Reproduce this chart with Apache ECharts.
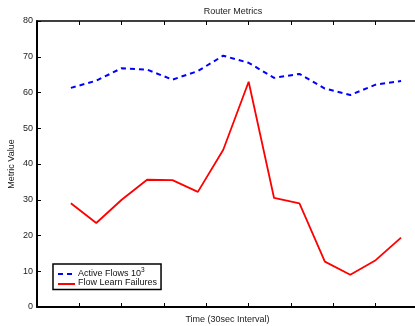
<!DOCTYPE html>
<html>
<head>
<meta charset="utf-8">
<script src="https://cdn.jsdelivr.net/npm/echarts@6/dist/echarts.min.js"></script>
<style>
  html, body { margin: 0; padding: 0; background: #fff; }
  #chart { width: 415px; height: 326px; }
</style>
</head>
<body>
<div id="chart"></div>
<script>
// Sample times (axis units), one per 30-second interval
var sampleTimes = [4, 7, 10, 13, 16, 19, 22, 25, 28, 31, 34, 37, 40, 43];
// Active flows, in thousands
var activeFlows = [61.3, 63.3, 66.8, 66.4, 63.6, 66.0, 70.3, 68.3, 64.1, 65.2, 61.1, 59.3, 62.2, 63.2];
// Flow learn failures
var learnFailures = [29.0, 23.5, 30.0, 35.6, 35.5, 32.2, 44.0, 63.0, 30.5, 29.0, 12.7, 9.0, 13.1, 19.4];
var yTicks = [0, 10, 20, 30, 40, 50, 60, 70, 80];

var FONT = '"Liberation Sans", Arial, Helvetica, sans-serif';

function pairs(xs, ys) {
  return xs.map(function (x, i) { return [x, ys[i]]; });
}

var chart = echarts.init(document.getElementById('chart'), null, { renderer: 'canvas' });

var xCommon = {
  type: 'value',
  min: 0,
  max: 45,
  interval: 5,
  axisLabel: { show: false },
  splitLine: { show: false },
  axisTick: { show: true, inside: true, length: 4, lineStyle: { color: '#000', width: 1 } }
};

var hidden = { color: 'rgba(0,0,0,0)', borderColor: 'rgba(0,0,0,0)' };

chart.setOption({
  animation: false,
  backgroundColor: '#fff',
  title: {
    text: 'Router Metrics',
    left: 228,
    textAlign: 'center',
    top: 2,
    textStyle: { fontFamily: FONT, fontSize: 9, fontWeight: 'normal', color: '#222' }
  },
  grid: { left: 37, top: 21, width: 381, height: 286, containLabel: false, outerBoundsMode: 'none' },
  xAxis: [
    Object.assign({}, xCommon, {
      position: 'bottom',
      name: 'Time (30sec Interval)',
      nameLocation: 'middle',
      nameGap: 8,
      nameTextStyle: { fontFamily: FONT, fontSize: 9, color: '#222' },
      axisLine: { show: true, onZero: false, lineStyle: { color: '#000', width: 2 } }
    }),
    Object.assign({}, xCommon, {
      position: 'top',
      axisLine: { show: true, onZero: false, lineStyle: { color: '#000', width: 1.5 } }
    })
  ],
  yAxis: {
    type: 'value',
    min: 0,
    max: 80,
    interval: 10,
    name: 'Metric Value',
    nameLocation: 'middle',
    nameGap: 21,
    nameMoveOverlap: false,
    nameTextStyle: { fontFamily: FONT, fontSize: 9, color: '#222' },
    axisLine: { show: true, lineStyle: { color: '#000', width: 2 } },
    axisTick: { show: true, inside: true, length: 4, lineStyle: { color: '#000', width: 1 } },
    axisLabel: {
      margin: 4,
      fontFamily: FONT,
      fontSize: 9,
      color: '#222',
      customValues: yTicks
    },
    splitLine: { show: false }
  },
  legend: {
    orient: 'vertical',
    left: 53,
    top: 264,
    padding: [3, 4, 2, 4],
    itemGap: 0,
    itemWidth: 16,
    itemHeight: 8,
    backgroundColor: '#fff',
    borderColor: '#000',
    borderWidth: 1.5,
    borderRadius: 0,
    icon: 'rect',
    itemStyle: hidden,
    lineStyle: { color: 'rgba(0,0,0,0)' },
    data: ['Active Flows', 'Flow Learn Failures'],
    formatter: function (name) {
      if (name === 'Active Flows') return '{t|Active Flows 10}{s|3}';
      return '{t|' + name + '}';
    },
    textStyle: {
      fontFamily: FONT,
      fontSize: 9,
      color: '#111',
      rich: {
        t: { fontFamily: FONT, fontSize: 9, color: '#111', verticalAlign: 'bottom', lineHeight: 11 },
        s: { fontFamily: FONT, fontSize: 6.5, color: '#111', verticalAlign: 'top', lineHeight: 11, padding: [0, 0, 4, 0] }
      }
    }
  },
  graphic: [
    {
      type: 'line', z: 100,
      shape: { x1: 58, y1: 274, x2: 75, y2: 274 },
      style: { stroke: '#0000ff', lineWidth: 2, lineDash: [5, 4] }
    },
    {
      type: 'line', z: 100,
      shape: { x1: 58, y1: 284, x2: 75, y2: 284 },
      style: { stroke: '#ff0000', lineWidth: 2 }
    }
  ],
  series: [
    {
      name: 'Active Flows',
      type: 'line',
      xAxisIndex: 0,
      data: pairs(sampleTimes, activeFlows),
      showSymbol: false,
      symbol: 'none',
      color: '#0000ff',
      lineStyle: { color: '#0000ff', width: 2, type: [5, 4] }
    },
    {
      name: 'Flow Learn Failures',
      type: 'line',
      xAxisIndex: 0,
      data: pairs(sampleTimes, learnFailures),
      showSymbol: false,
      symbol: 'none',
      color: '#ff0000',
      lineStyle: { color: '#ff0000', width: 1.8 }
    }
  ]
});
</script>
</body>
</html>
